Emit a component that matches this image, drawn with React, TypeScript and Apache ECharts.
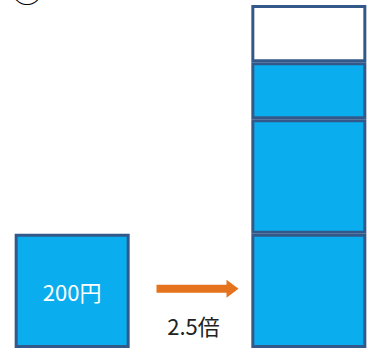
import React, { useEffect, useRef } from "react";
import * as echarts from "echarts";

const categories = ["before", "arrow", "after"];
const baseValues = [200, null, 200];
const addValuesA = [null, null, 200];
const addValuesB = [null, null, 100];
const remainderValues = [null, null, 100];
const arrowPoint = [1, 100];
const priceLabel = "200円";
const arrowLabel = "2.5倍";
const markLabel = "①";

const FILL = "#0AAEEE";
const BORDER = "#33598A";
const FONT = '"Noto Sans CJK JP", "Noto Sans", sans-serif';

export default function App() {
  const ref = useRef<HTMLDivElement>(null);
  useEffect(() => {
    if (!ref.current) return;
    const chart = echarts.init(ref.current, undefined, { renderer: "svg" });
    const barStyle = { color: FILL, borderColor: BORDER, borderWidth: 3 };
    chart.setOption({
      animation: false,
      backgroundColor: "#ffffff",
      grid: { left: 13, top: 5, width: 356, bottom: 4 },
      xAxis: { type: "category", data: categories, show: false },
      yAxis: { type: "value", min: 0, max: 600, show: false },
      graphic: [
        {
          type: "text",
          left: 11,
          top: -28,
          style: { text: markLabel, fill: "#000", font: `32px ${FONT}` },
        },
      ],
      series: [
        {
          type: "bar",
          stack: "total",
          barWidth: 115,
          data: baseValues,
          itemStyle: barStyle,
          label: {
            show: true,
            position: "inside",
            color: "#ffffff",
            fontSize: 22,
            fontFamily: FONT,
            formatter: (p: any) => (p.dataIndex === 0 ? priceLabel : ""),
          },
        },
        { type: "bar", stack: "total", barWidth: 115, data: addValuesA, itemStyle: barStyle },
        { type: "bar", stack: "total", barWidth: 115, data: addValuesB, itemStyle: barStyle },
        {
          type: "bar",
          stack: "total",
          barWidth: 115,
          data: remainderValues,
          itemStyle: { color: "#ffffff", borderColor: BORDER, borderWidth: 3 },
        },
        {
          type: "custom",
          data: [arrowPoint],
          renderItem: (params: any, api: any) => {
            const p = api.coord([api.value(0), api.value(1)]);
            const cx = p[0] + 7;
            const cy = p[1] - 2;
            return {
              type: "group",
              children: [
                {
                  type: "polygon",
                  shape: {
                    points: [
                      [cx - 41, cy - 4],
                      [cx + 29, cy - 4],
                      [cx + 29, cy - 9],
                      [cx + 41, cy],
                      [cx + 29, cy + 9],
                      [cx + 29, cy + 4],
                      [cx - 41, cy + 4],
                    ],
                  },
                  style: { fill: "#E5731E" },
                },
                {
                  type: "text",
                  x: cx - 4,
                  y: cy + 36,
                  style: {
                    text: arrowLabel,
                    fill: "#222222",
                    font: `22px ${FONT}`,
                    align: "center",
                    verticalAlign: "middle",
                  },
                },
              ],
            };
          },
        },
      ],
    });
    return () => chart.dispose();
  }, []);
  return (
    <div
      ref={ref}
      style={{ position: "fixed", left: 0, top: 0, width: 368, height: 352 }}
    />
  );
}
